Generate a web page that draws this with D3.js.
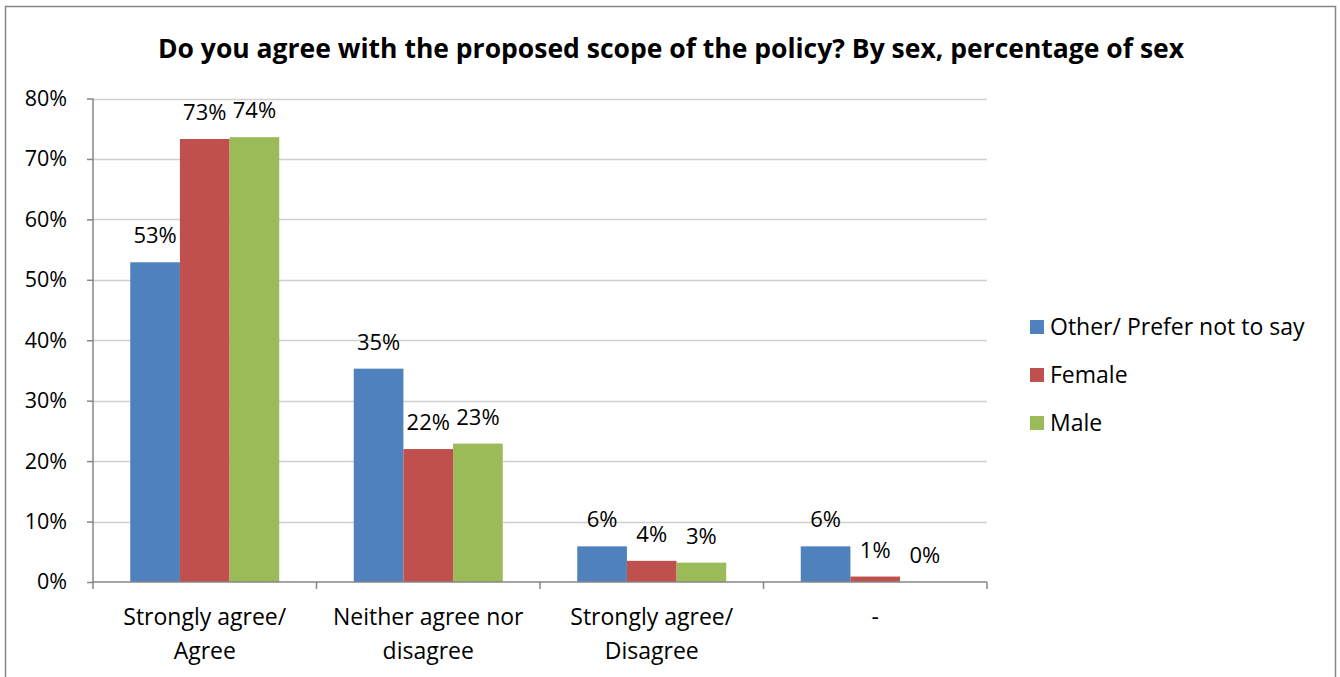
<!DOCTYPE html>
<html>
<head>
<meta charset="utf-8">
<script src="https://d3js.org/d3.v7.min.js"></script>
<style>
  body { margin: 0; background: #fff; }
  text { font-family: "Open Sans", "Liberation Sans", sans-serif; fill: #000; }
</style>
</head>
<body>
<div class="chart"></div>
<script>
var categories = [["Strongly agree/", "Agree"], ["Neither agree nor", "disagree"], ["Strongly agree/", "Disagree"], ["-"]];
var seriesNames = ["Other/ Prefer not to say", "Female", "Male"];
var otherValues = [52.9, 35.3, 5.9, 5.9];
var femaleValues = [73.3, 22.0, 3.5, 0.9];
var maleValues = [73.6, 22.9, 3.2, 0.0];
var yTicks = [0, 10, 20, 30, 40, 50, 60, 70, 80];
var colors = ["#4f81bd", "#c0504d", "#9bbb59"];

var width = 1340,
    height = 677;

var svg = d3.select(".chart").append("svg")
    .attr("width", width)
    .attr("height", height);

// outer frame
svg.append("path")
    .attr("d", "M5.5,677 V6.5 H1335.5 V677")
    .attr("fill", "none")
    .attr("stroke", "#868686")
    .attr("stroke-width", 1.5);

svg.append("text")
    .attr("x", 671)
    .attr("y", 58)
    .attr("text-anchor", "middle")
    .style("font-size", "26.5px")
    .style("font-weight", "bold")
    .text("Do you agree with the proposed scope of the policy? By sex, percentage of sex");

var plotLeft = 93, plotRight = 987, plotTop = 98.5, plotBottom = 582;

var x = d3.scaleBand()
    .domain(d3.range(categories.length))
    .range([plotLeft, plotRight])
    .paddingInner(0)
    .paddingOuter(0);

var y = d3.scaleLinear()
    .domain([0, 80])
    .range([plotBottom, plotTop]);

var data = seriesNames.map(function(name, i) {
  var vals = [otherValues, femaleValues, maleValues][i];
  return { name: name, color: colors[i], values: vals };
});

// gridlines
svg.append("g")
  .selectAll("line")
  .data(yTicks.slice(1))
  .enter().append("line")
    .attr("x1", plotLeft).attr("x2", plotRight)
    .attr("y1", function(d) { return Math.round(y(d)) + 0.5; })
    .attr("y2", function(d) { return Math.round(y(d)) + 0.5; })
    .attr("stroke", "#d0d0d0")
    .attr("stroke-width", 1.5);

// bars
var bw = x.bandwidth() / 4.5;
data.forEach(function(s, si) {
  var g = svg.append("g");
  g.selectAll("rect")
    .data(s.values)
    .enter().append("rect")
      .attr("x", function(d, i) { return x(i) + bw * 0.75 + si * bw; })
      .attr("y", function(d) { return y(d); })
      .attr("width", bw)
      .attr("height", function(d) { return plotBottom - y(d); })
      .attr("fill", s.color);
  g.selectAll("text")
    .data(s.values)
    .enter().append("text")
      .attr("x", function(d, i) { return x(i) + bw * 1.25 + si * bw; })
      .attr("y", function(d) { return y(d) - 19; })
      .attr("text-anchor", "middle")
      .style("font-size", "22px")
      .text(function(d) { return Math.round(d) + "%"; });
});

// y axis
var yAxis = svg.append("g")
    .attr("transform", "translate(" + plotLeft + ",0)")
    .call(d3.axisLeft(y).tickValues(yTicks).tickSize(6).tickPadding(20)
      .tickFormat(function(d) { return d + "%"; }));
yAxis.selectAll("text").style("font-size", "21.5px").attr("fill", "#000");
yAxis.selectAll("line, path").attr("stroke", "#868686").attr("stroke-width", 1.5);
yAxis.select(".domain").attr("d", "M0," + plotBottom + "V" + plotTop);

// x axis
var xAxis = svg.append("g")
    .attr("transform", "translate(0," + plotBottom + ")");
xAxis.append("line")
    .attr("x1", plotLeft).attr("x2", plotRight)
    .attr("stroke", "#868686").attr("stroke-width", 1.5);
xAxis.selectAll(".tick")
  .data(d3.range(categories.length + 1))
  .enter().append("line")
    .attr("x1", function(d) { return plotLeft + d * x.bandwidth(); })
    .attr("x2", function(d) { return plotLeft + d * x.bandwidth(); })
    .attr("y1", 0).attr("y2", 7)
    .attr("stroke", "#868686").attr("stroke-width", 1.5);
xAxis.selectAll(".cat")
  .data(categories)
  .enter().append("text")
    .attr("text-anchor", "middle")
    .attr("transform", function(d, i) { return "translate(" + (x(i) + x.bandwidth() / 2) + ",0)"; })
    .style("font-size", "23px")
    .each(function(d) {
      var t = d3.select(this);
      d.forEach(function(line, k) {
        t.append("tspan").attr("x", 0).attr("y", 43 + k * 34).text(line);
      });
    });

// legend
var legend = svg.append("g")
    .attr("transform", "translate(1030,0)");
var item = legend.selectAll("g")
  .data(data)
  .enter().append("g")
    .attr("transform", function(d, i) { return "translate(0," + (327 + i * 48) + ")"; });
item.append("rect")
    .attr("x", 0).attr("y", -7)
    .attr("width", 14).attr("height", 14)
    .attr("fill", function(d) { return d.color; });
item.append("text")
    .attr("x", 20).attr("y", 8)
    .style("font-size", "23px")
    .text(function(d) { return d.name; });
</script>
</body>
</html>
